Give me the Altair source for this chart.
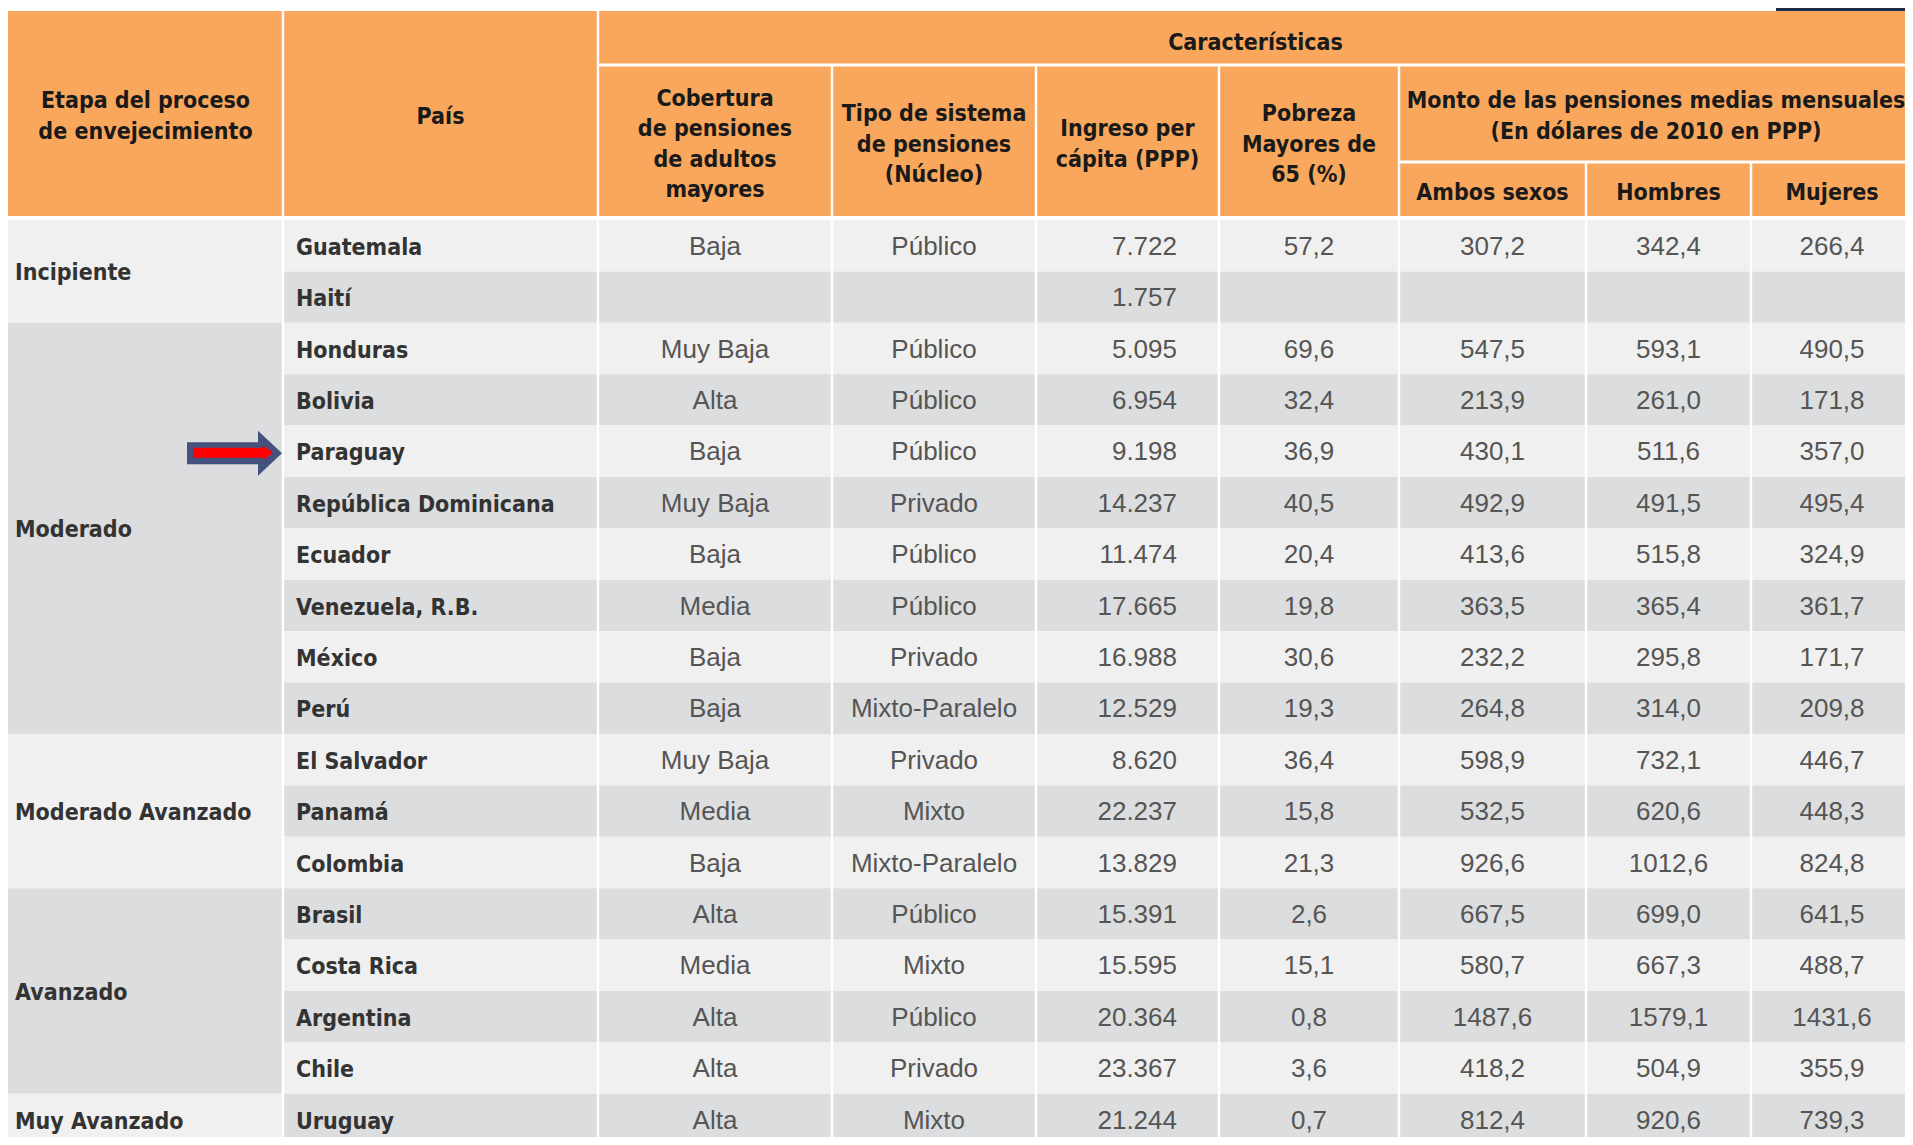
import altair as alt
import pandas as pd

# ---------------- data ----------------
etapas = ["Incipiente", "Moderado", "Moderado Avanzado", "Avanzado", "Muy Avanzado"]
etapa_filas = [2, 8, 3, 4, 1]

paises = ["Guatemala", "Haití", "Honduras", "Bolivia", "Paraguay", "República Dominicana",
          "Ecuador", "Venezuela, R.B.", "México", "Perú", "El Salvador", "Panamá",
          "Colombia", "Brasil", "Costa Rica", "Argentina", "Chile", "Uruguay"]
cobertura = ["Baja", "", "Muy Baja", "Alta", "Baja", "Muy Baja", "Baja", "Media", "Baja",
             "Baja", "Muy Baja", "Media", "Baja", "Alta", "Media", "Alta", "Alta", "Alta"]
tipo_sistema = ["Público", "", "Público", "Público", "Público", "Privado", "Público", "Público",
                "Privado", "Mixto-Paralelo", "Privado", "Mixto", "Mixto-Paralelo", "Público",
                "Mixto", "Público", "Privado", "Mixto"]
ingreso = [7722, 1757, 5095, 6954, 9198, 14237, 11474, 17665, 16988, 12529, 8620, 22237,
           13829, 15391, 15595, 20364, 23367, 21244]
pobreza = [57.2, None, 69.6, 32.4, 36.9, 40.5, 20.4, 19.8, 30.6, 19.3, 36.4, 15.8, 21.3,
           2.6, 15.1, 0.8, 3.6, 0.7]
ambos = [307.2, None, 547.5, 213.9, 430.1, 492.9, 413.6, 363.5, 232.2, 264.8, 598.9, 532.5,
         926.6, 667.5, 580.7, 1487.6, 418.2, 812.4]
hombres = [342.4, None, 593.1, 261.0, 511.6, 491.5, 515.8, 365.4, 295.8, 314.0, 732.1, 620.6,
           1012.6, 699.0, 667.3, 1579.1, 504.9, 920.6]
mujeres = [266.4, None, 490.5, 171.8, 357.0, 495.4, 324.9, 361.7, 171.7, 209.8, 446.7, 448.3,
           824.8, 641.5, 488.7, 1431.6, 355.9, 739.3]
destacado = "Paraguay"

titulo_etapa = "Etapa del proceso\nde envejecimiento"
titulo_pais = "País"
titulo_caract = "Características"
titulos_sub = ["Cobertura\nde pensiones\nde adultos\nmayores",
               "Tipo de sistema\nde pensiones\n(Núcleo)",
               "Ingreso per\ncápita (PPP)",
               "Pobreza\nMayores de\n65 (%)"]
titulo_monto = "Monto de las pensiones medias mensuales\n(En dólares de 2010 en PPP)"
titulos_sexo = ["Ambos sexos", "Hombres", "Mujeres"]

# ---------------- layout (page pixels) ----------------
W, H = 1897, 1129
X0, Y0 = 8, 8
col_edges = [8, 283, 598, 832, 1036, 1219, 1399, 1586, 1751, 1913]
HEAD_TOP, CAR_BOT, MONTO_BOT, HEAD_BOT = 11, 65, 162, 216
BODY_TOP, ROW_H = 220, 51.4
LH = 30.5

ORANGE = "#F9A75C"
LIGHT = "#F0F0F0"
DARK = "#DCDDDE"
WHITE = "#FFFFFF"

HFONT = "DejaVu Sans Condensed, DejaVu Sans, sans-serif"
BFONT = "Liberation Sans, Arial, sans-serif"
HSIZE = 23
BSIZE = 26


def fmt_miles(v):
    return f"{v:,}".replace(",", ".")


def fmt_dec(v):
    return "" if v is None else f"{v:.1f}".replace(".", ",")


# ---------------- rectangles ----------------
rects = []


def R(x, x2, y, y2, c):
    rects.append({"x": x, "x2": x2, "y": y, "y2": y2, "c": c})


R(0, 1913, 0, 1145, "#FFFFFF")
R(1776, 1913, 0, 11, "#1C2B4A")
R(col_edges[0], col_edges[-1], HEAD_TOP, HEAD_BOT, ORANGE)
n = len(paises)
for i in range(n):
    y = BODY_TOP + i * ROW_H
    R(col_edges[1], col_edges[-1], y, y + ROW_H, LIGHT if i % 2 == 0 else DARK)
start = 0
for g, cnt in enumerate(etapa_filas):
    y = BODY_TOP + start * ROW_H
    y2 = y + cnt * ROW_H if g < len(etapa_filas) - 1 else 1145
    R(col_edges[0], col_edges[1], y, y2, LIGHT if g % 2 == 0 else DARK)
    start += cnt
# white separators
R(col_edges[0], col_edges[-1], HEAD_BOT, BODY_TOP, WHITE)
R(col_edges[2], col_edges[-1], CAR_BOT - 1.5, CAR_BOT + 1.5, WHITE)
R(col_edges[6], col_edges[-1], MONTO_BOT - 1.5, MONTO_BOT + 1.5, WHITE)
for k, xe in enumerate(col_edges[1:-1], start=1):
    if k in (1, 2):
        top = HEAD_TOP
    elif k in (3, 4, 5, 6):
        top = CAR_BOT
    else:
        top = MONTO_BOT
    R(xe - 1.2, xe + 1.2, top, 1145, WHITE)
rect_df = pd.DataFrame(rects)

xs = alt.Scale(domain=[X0, X0 + W], nice=False, zero=False)
ys = alt.Scale(domain=[Y0, Y0 + H], nice=False, zero=False, reverse=True)
noax = None

rect_layer = alt.Chart(rect_df).mark_rect(clip=True, strokeWidth=0).encode(
    x=alt.X("x:Q", scale=xs, axis=noax),
    x2="x2:Q",
    y=alt.Y("y:Q", scale=ys, axis=noax),
    y2="y2:Q",
    color=alt.Color("c:N", scale=None),
)


# ---------------- header texts ----------------
def cx(a, b):
    return (col_edges[a] + col_edges[b]) / 2


hdr = []


def HT(x, yc, t):
    nl = t.count("\n")
    hdr.append({"x": x, "y": yc - nl * LH / 2 + 3, "t": t})


HT(cx(0, 1), (HEAD_TOP + HEAD_BOT) / 2, titulo_etapa)
HT(cx(1, 2), (HEAD_TOP + HEAD_BOT) / 2, titulo_pais)
HT(cx(2, 9), (HEAD_TOP + CAR_BOT) / 2 + 2, titulo_caract)
for j, t in enumerate(titulos_sub):
    HT(cx(2 + j, 3 + j), (CAR_BOT + HEAD_BOT) / 2 + 1, t)
HT(cx(6, 9), (CAR_BOT + MONTO_BOT) / 2, titulo_monto)
for j, t in enumerate(titulos_sexo):
    HT(cx(6 + j, 7 + j), (MONTO_BOT + HEAD_BOT) / 2 + 1, t)
hdr_df = pd.DataFrame(hdr)

hdr_layer = alt.Chart(hdr_df).mark_text(
    font=HFONT, fontWeight="bold", fontSize=HSIZE, color="#1A1A1A",
    align="center", baseline="middle", lineBreak="\n", lineHeight=LH,
).encode(x=alt.X("x:Q", scale=xs, axis=noax), y=alt.Y("y:Q", scale=ys, axis=noax), text="t:N")

# ---------------- stage texts ----------------
st = []
start = 0
for g, cnt in enumerate(etapa_filas):
    st.append({"x": 15, "y": BODY_TOP + (start + cnt / 2) * ROW_H + 2, "t": etapas[g]})
    start += cnt
st_df = pd.DataFrame(st)
stage_layer = alt.Chart(st_df).mark_text(
    font=HFONT, fontWeight="bold", fontSize=HSIZE, color="#333333",
    align="left", baseline="middle", clip=True,
).encode(x=alt.X("x:Q", scale=xs, axis=noax), y=alt.Y("y:Q", scale=ys, axis=noax), text="t:N")

# ---------------- country texts ----------------
cdf = pd.DataFrame({
    "x": [296] * n,
    "y": [BODY_TOP + (i + 0.5) * ROW_H + 2 for i in range(n)],
    "t": paises,
})
country_layer = alt.Chart(cdf).mark_text(
    font=HFONT, fontWeight="bold", fontSize=HSIZE, color="#333333",
    align="left", baseline="middle", clip=True,
).encode(x=alt.X("x:Q", scale=xs, axis=noax), y=alt.Y("y:Q", scale=ys, axis=noax), text="t:N")

# ---------------- cell texts ----------------
cells = []
for i in range(n):
    yc = BODY_TOP + (i + 0.5) * ROW_H + 1
    vals = [cobertura[i], tipo_sistema[i], None, fmt_dec(pobreza[i]),
            fmt_dec(ambos[i]), fmt_dec(hombres[i]), fmt_dec(mujeres[i])]
    cols = [2, 3, 4, 5, 6, 7, 8]
    for v, c in zip(vals, cols):
        if v is None or v == "":
            continue
        cells.append({"x": cx(c, c + 1), "y": yc, "t": v})
cell_df = pd.DataFrame(cells)
cell_layer = alt.Chart(cell_df).mark_text(
    font=BFONT, fontSize=BSIZE, color="#555555", align="center", baseline="middle", clip=True,
).encode(x=alt.X("x:Q", scale=xs, axis=noax), y=alt.Y("y:Q", scale=ys, axis=noax), text="t:N")

ing_df = pd.DataFrame({
    "x": [1177] * n,
    "y": [BODY_TOP + (i + 0.5) * ROW_H + 1 for i in range(n)],
    "t": [fmt_miles(v) for v in ingreso],
})
ing_layer = alt.Chart(ing_df).mark_text(
    font=BFONT, fontSize=BSIZE, color="#555555", align="right", baseline="middle", clip=True,
).encode(x=alt.X("x:Q", scale=xs, axis=noax), y=alt.Y("y:Q", scale=ys, axis=noax), text="t:N")

# ---------------- arrow ----------------
ri = paises.index(destacado)
arrow_df = pd.DataFrame([
    {"x": 234.5, "y": BODY_TOP + (ri + 0.5) * ROW_H + 2, "c": "#45527E", "s": 95 * 95,
     "p": "M-1,-0.232L0.495,-0.232L0.495,-0.474L1,0L0.495,0.474L0.495,0.232L-1,0.232Z"},
    {"x": 233, "y": BODY_TOP + (ri + 0.5) * ROW_H + 1.5, "c": "#FF0000", "s": 80 * 80,
     "p": "M-1,-0.125L0.75,-0.125L0.75,-0.19L1,0L0.75,0.19L0.75,0.125L-1,0.125Z"},
])
arrow_layers = []
for _, r in arrow_df.iterrows():
    arrow_layers.append(
        alt.Chart(arrow_df[arrow_df["c"] == r["c"]]).mark_point(
            shape=r["p"], size=float(r["s"]), filled=True, opacity=1, strokeWidth=0,
        ).encode(
            x=alt.X("x:Q", scale=xs, axis=noax),
            y=alt.Y("y:Q", scale=ys, axis=noax),
            color=alt.Color("c:N", scale=None),
        )
    )

chart = alt.layer(
    rect_layer, hdr_layer, stage_layer, country_layer, cell_layer, ing_layer, *arrow_layers
).properties(
    width=W, height=H, padding=0, autosize=alt.AutoSizeParams(type="none"),
    background="#FFFFFF",
).configure_view(strokeWidth=0)

chart.save("out.html", embed_options={"renderer": "svg", "actions": False})
